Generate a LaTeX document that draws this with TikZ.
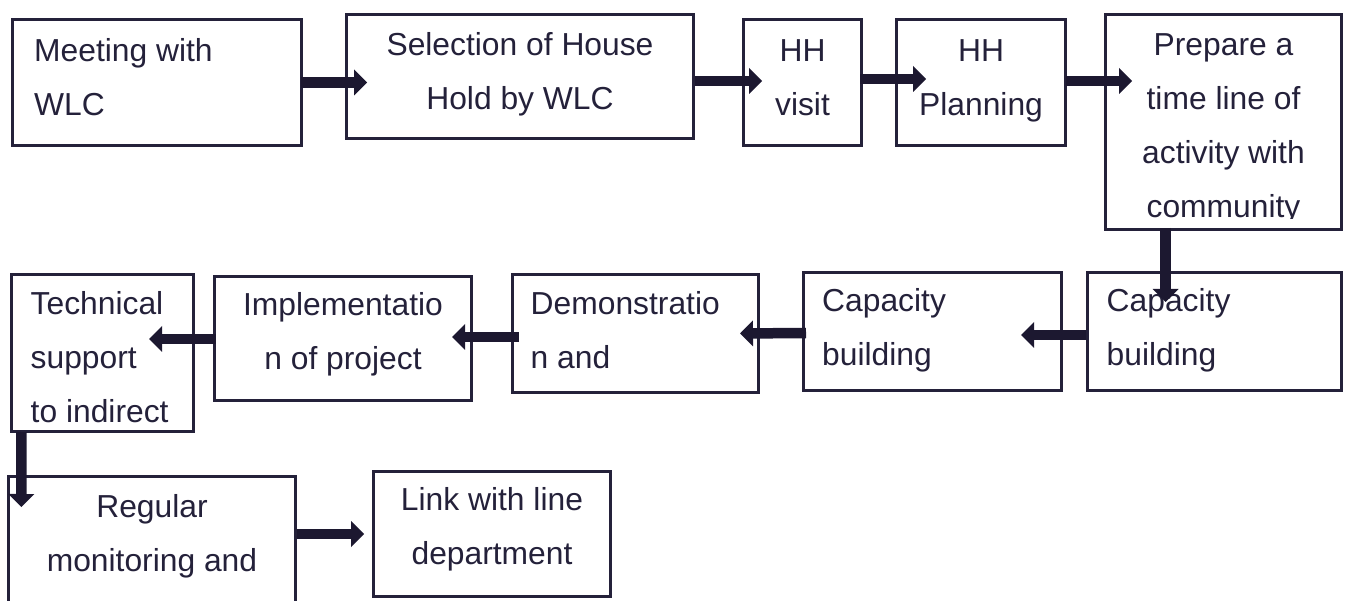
\documentclass[tikz,border=0pt]{standalone}
\usepackage{fontspec}
\setmainfont{Liberation Sans}
\usetikzlibrary{arrows.meta,calc}
\definecolor{ink}{RGB}{36,33,58}
\definecolor{arr}{RGB}{28,24,48}
\newcommand\boxfont{\fontsize{31.8}{54}\selectfont}
\begin{document}
\begin{tikzpicture}[x=1pt,y=-1pt,
  box/.style={draw=ink,line width=3pt,inner sep=0pt,rectangle},
  txt/.style={inner sep=0pt,font=\boxfont,text=ink},
  blk/.style={draw=arr,line width=10.5pt,-{Triangle[length=13pt,width=26pt,line width=0pt]}}]
\useasboundingbox (0,0) rectangle (1346,601);
\clip (0,0) rectangle (1346,601);
% boxes
\node[box,minimum width=289pt,minimum height=126pt] (b1) at (157,82.5) {};
\node[box,minimum width=347pt,minimum height=124pt] (b2) at (520,76.5) {};
\node[box,minimum width=118pt,minimum height=126pt] (b3) at (802.5,82.5) {};
\node[box,minimum width=169pt,minimum height=126pt] (b4) at (981,82.5) {};
\node[box,minimum width=236pt,minimum height=215pt] (b5) at (1223.5,122) {};
\node[box,minimum width=254pt,minimum height=118pt] (b6) at (1214.5,331.5) {};
\node[box,minimum width=258pt,minimum height=118pt] (b7) at (932.5,331.5) {};
\node[box,minimum width=246pt,minimum height=118pt] (b8) at (635.5,333.5) {};
\node[box,minimum width=257pt,minimum height=124pt] (b9) at (343,338.5) {};
\node[box,minimum width=182pt,minimum height=157pt] (b10) at (102.5,353) {};
\node[box,minimum width=287pt,minimum height=172pt] (b11) at (152,562.5) {};
\node[box,minimum width=237pt,minimum height=125pt] (b12) at (492,534) {};
% texts
\node[txt,anchor=north west,align=left] (t1) at (34,23.9) {\strut Meeting with\\WLC};
\node[txt,anchor=north,align=center] (t2) at (520,17.2) {\strut Selection of House\\Hold by WLC};
\node[txt,anchor=north,align=center] (t3) at (802.5,23.2) {\strut HH\\visit};
\node[txt,anchor=north,align=center] (t4) at (981,23.2) {\strut HH\\Planning};
\begin{scope}
\clip (1100,10) rectangle (1346,219);
\node[txt,anchor=north,align=center] (t5) at (1223.5,17.2) {\strut Prepare a\\time line of\\activity with\\community};
\end{scope}
\node[txt,anchor=north west,align=left] (t6) at (1106.5,273.9) {\strut Capacity\\building};
\node[txt,anchor=north west,align=left] (t7) at (822,273.9) {\strut Capacity\\building};
\node[txt,anchor=north west,align=left] (t8) at (530.5,276.2) {\strut Demonstratio\\n and};
\node[txt,anchor=north,align=center] (t9) at (343,277.2) {\strut Implementatio\\n of project};
\node[txt,anchor=north west,align=left] (t10) at (30.5,276.2) {\strut Technical\\support\\to indirect};
\node[txt,anchor=north,align=center] (t11) at (152,479.2) {\strut Regular\\monitoring and};
\node[txt,anchor=north,align=center] (t12) at (492,472.9) {\strut Link with line\\department};
% arrows
\draw[blk] ([xshift=-2pt]b1.east) -- ([xshift=22pt]b2.west |- b1.east);
\draw[blk] ([yshift=1.5pt]b2.east |- b3.west) -- ([xshift=20pt,yshift=1.5pt]b3.west);
\draw[blk] ([xshift=-3pt,yshift=3.5pt]b3.east) -- ([xshift=31pt,yshift=3.5pt]b4.west);
\draw[blk] ([xshift=-1pt,yshift=1.5pt]b4.east) -- ([xshift=28pt,yshift=1.5pt]b5.west |- b4.east);
\draw[blk] ([xshift=-58pt,yshift=3pt]b5.south) -- ([xshift=-49pt,yshift=-31pt]b6.north);
\draw[blk] ([yshift=-3.5pt]b6.west) -- ([xshift=-42pt,yshift=-3.5pt]b7.east);
\draw[blk] ([xshift=4pt,yshift=-1.5pt]b7.west) -- ([xshift=-20pt]b8.east);
\draw[blk] ([xshift=8pt,yshift=-3.5pt]b8.west) -- ([xshift=-21pt,yshift=1.5pt]b9.east);
\draw[blk] ([xshift=2.6pt,yshift=-0.5pt]b9.west) -- ([xshift=-46pt,yshift=14pt]b10.east);
\draw[blk] ([xshift=-81pt,yshift=1pt]b10.south) -- ([xshift=-130.6pt,yshift=-32pt]b11.north);
\draw[blk] ([yshift=28.5pt]b11.east) -- ([xshift=-8pt]b12.west);
\end{tikzpicture}
\end{document}
